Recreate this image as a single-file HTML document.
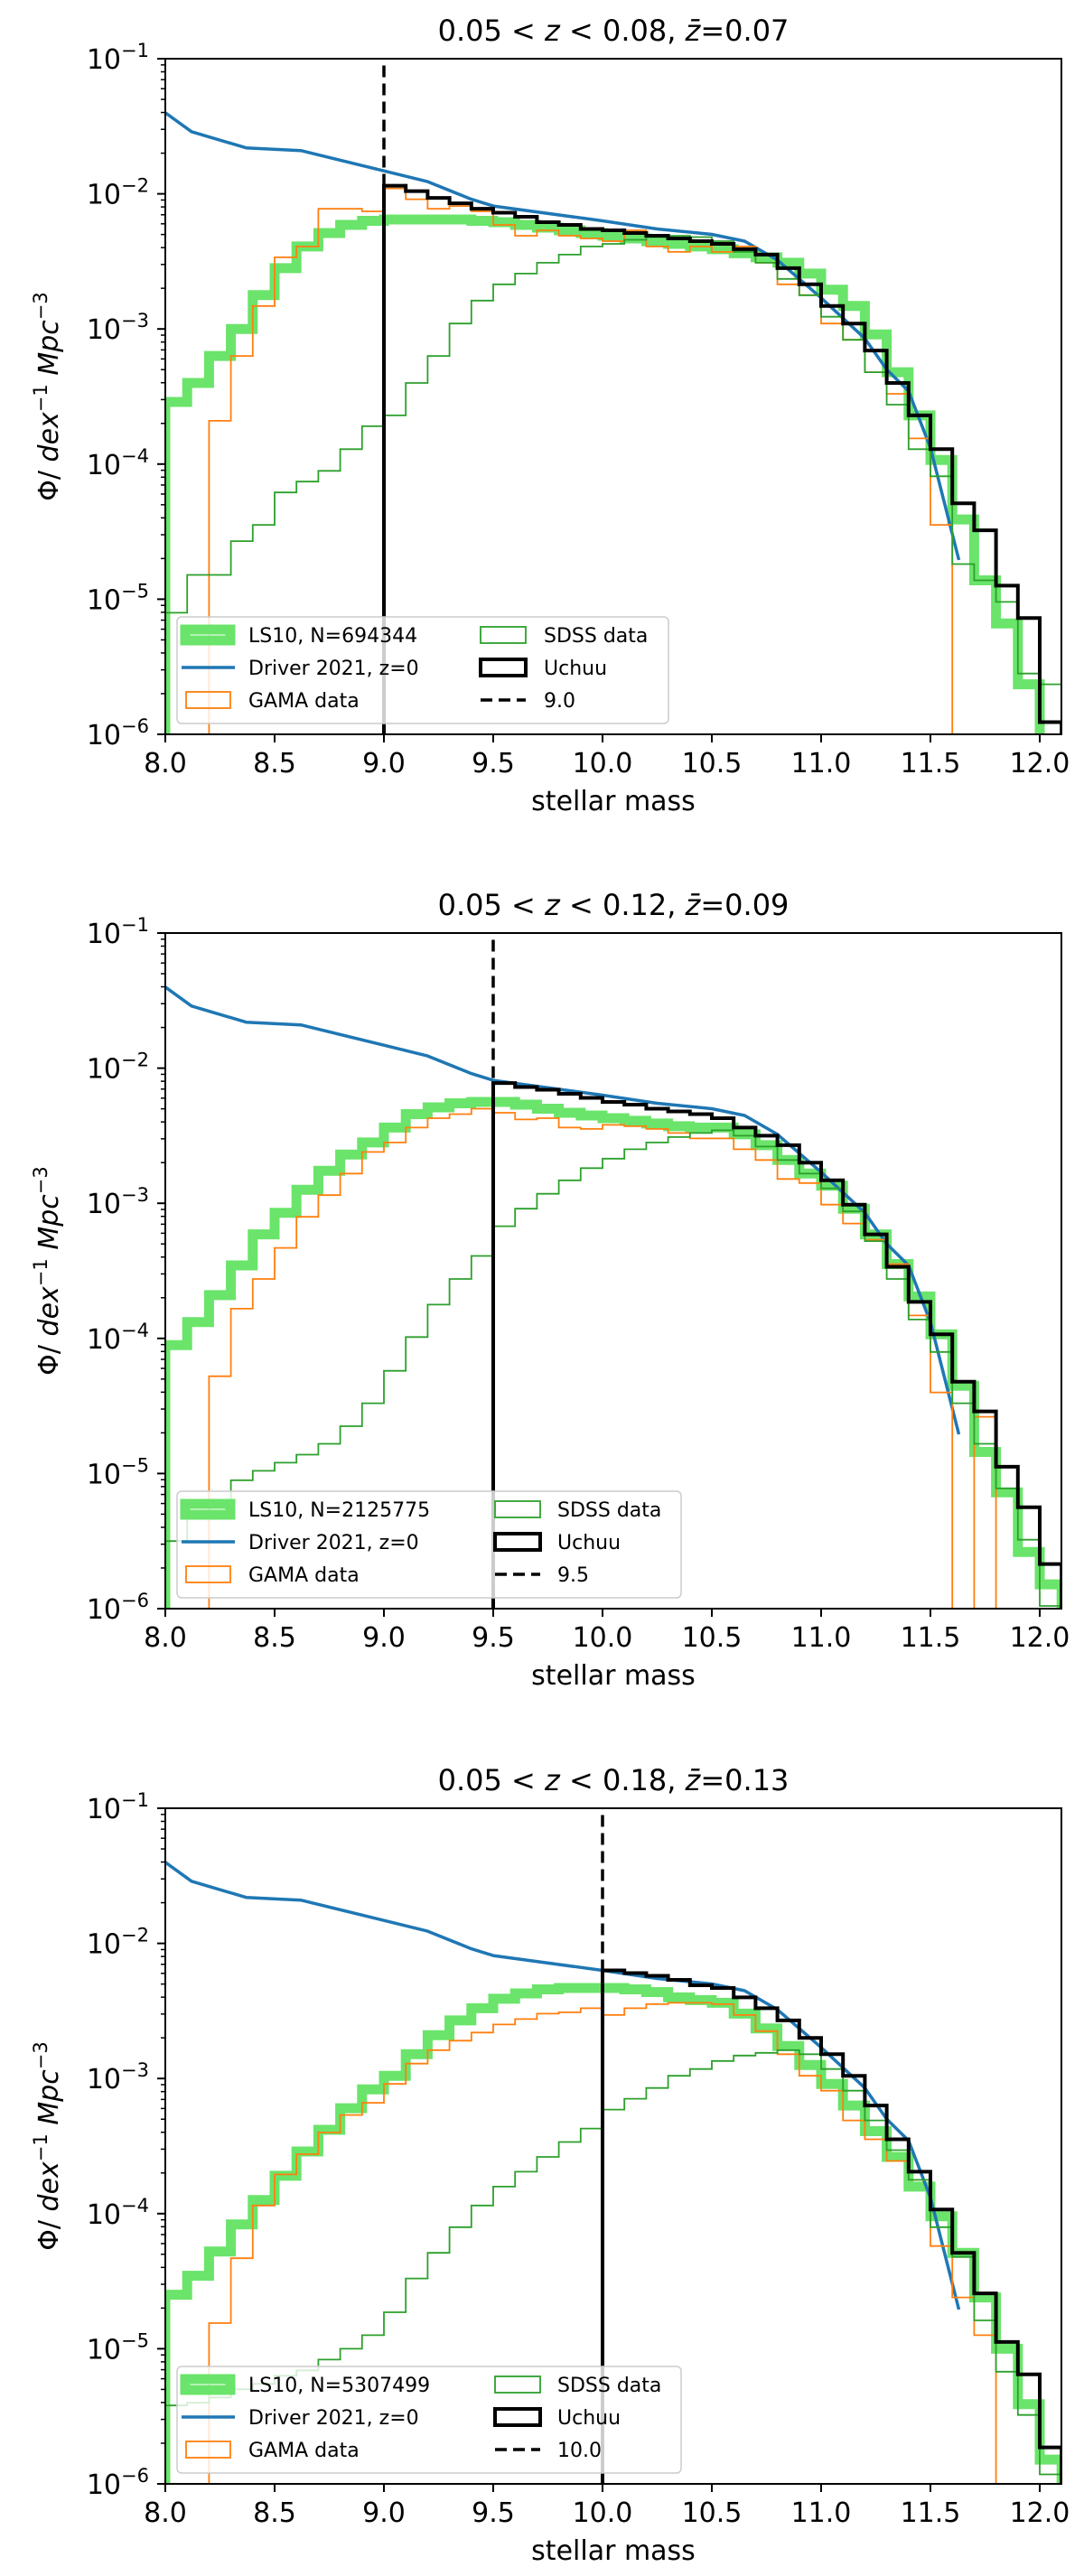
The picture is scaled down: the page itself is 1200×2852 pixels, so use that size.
<!DOCTYPE html>
<html><head><meta charset="utf-8"><style>
html,body{margin:0;padding:0;background:#fff;}
svg{display:block;font-family:"DejaVu Sans","Liberation Sans",sans-serif;}
</style></head>
<body>
<svg id="fig" width="1200" height="2852" viewBox="0 0 1200 2852" xmlns="http://www.w3.org/2000/svg"></svg>
<script>
// ---- data (log10 Phi), bins of 0.1 dex starting at 8.0 ----
const binStart = 8.0;
const binWidth = 0.1;
const xTicks = [8.0, 8.5, 9.0, 9.5, 10.0, 10.5, 11.0, 11.5, 12.0];
const xTickLabels = ["8.0","8.5","9.0","9.5","10.0","10.5","11.0","11.5","12.0"];
const yTickExp = [-1, -2, -3, -4, -5, -6];
const driverMass = [8.0,8.12,8.37,8.62,9.0,9.2,9.4,9.5,10.0,10.25,10.5,10.65,10.8,11.0,11.2,11.3,11.4,11.5,11.63];
const driverLogPhi = [-1.40,-1.54,-1.66,-1.68,-1.83,-1.91,-2.04,-2.09,-2.20,-2.26,-2.30,-2.35,-2.49,-2.77,-3.07,-3.30,-3.46,-3.88,-4.71];

const titlePre = ["0.05 < ", "0.05 < ", "0.05 < "];
const titlePost = [" < 0.08", " < 0.12", " < 0.18"];
const zMeans = ["0.07", "0.09", "0.13"];
const nCounts = ["694344", "2125775", "5307499"];
const massCuts = [9.0, 9.5, 10.0];
const cutLabels = ["9.0", "9.5", "10.0"];

const ls10P1 = [-3.54,-3.40,-3.20,-3.00,-2.75,-2.55,-2.39,-2.29,-2.23,-2.20,-2.19,-2.19,-2.19,-2.19,-2.20,-2.21,-2.23,-2.25,-2.27,-2.29,-2.31,-2.33,-2.35,-2.37,-2.39,-2.41,-2.44,-2.47,-2.51,-2.59,-2.71,-2.83,-3.04,-3.32,-3.64,-3.97,-4.41,-4.86,-5.18,-5.63,null];
const gamaP1 = [null,null,-3.68,-3.20,-2.83,-2.47,-2.39,-2.11,-2.11,-2.13,-1.96,-2.04,-2.11,-2.09,-2.13,-2.23,-2.31,-2.27,-2.31,-2.33,-2.35,-2.27,-2.39,-2.43,-2.39,-2.43,-2.39,-2.51,-2.67,-2.75,-2.96,-3.08,-3.32,-3.48,-3.81,-4.45,null,null,null,null,null];
const sdssP1 = [-5.10,-4.82,-4.82,-4.57,-4.45,-4.21,-4.13,-4.05,-3.89,-3.72,-3.64,-3.40,-3.20,-2.96,-2.79,-2.67,-2.59,-2.51,-2.45,-2.39,-2.37,-2.34,-2.32,-2.31,-2.32,-2.35,-2.43,-2.51,-2.63,-2.75,-2.91,-3.08,-3.32,-3.56,-3.89,-4.09,-4.74,-4.86,-5.02,-5.55,-5.63];
const uchuuP1 = [null,null,null,null,null,null,null,null,null,null,-1.94,-1.98,-2.03,-2.07,-2.11,-2.14,-2.17,-2.21,-2.23,-2.26,-2.27,-2.29,-2.31,-2.33,-2.35,-2.37,-2.41,-2.45,-2.55,-2.67,-2.83,-2.96,-3.16,-3.40,-3.64,-3.89,-4.29,-4.49,-4.90,-5.14,-5.91];

const ls10P2 = [-4.05,-3.88,-3.68,-3.46,-3.23,-3.07,-2.90,-2.76,-2.64,-2.55,-2.44,-2.34,-2.29,-2.26,-2.25,-2.25,-2.27,-2.30,-2.33,-2.35,-2.37,-2.39,-2.41,-2.43,-2.44,-2.44,-2.49,-2.57,-2.68,-2.78,-2.87,-3.04,-3.23,-3.45,-3.69,-3.97,-4.35,-4.84,-5.14,-5.58,-5.82];
const gamaP2 = [null,null,-4.28,-3.78,-3.56,-3.33,-3.10,-2.94,-2.78,-2.62,-2.55,-2.44,-2.37,-2.34,-2.30,-2.33,-2.38,-2.37,-2.44,-2.45,-2.42,-2.43,-2.45,-2.48,-2.52,-2.52,-2.60,-2.68,-2.82,-2.85,-3.01,-3.15,-3.27,-3.45,-3.83,-4.40,null,-4.58,null,null,null];
const sdssP2 = [-5.50,-5.30,-5.20,-5.05,-4.98,-4.92,-4.86,-4.78,-4.65,-4.48,-4.24,-3.99,-3.75,-3.56,-3.39,-3.17,-3.04,-2.93,-2.83,-2.74,-2.67,-2.60,-2.55,-2.51,-2.48,-2.46,-2.50,-2.58,-2.68,-2.78,-2.89,-3.06,-3.28,-3.56,-3.86,-4.10,-4.48,-4.78,-5.11,-5.49,-5.98];
const uchuuP2 = [null,null,null,null,null,null,null,null,null,null,null,null,null,null,null,-2.11,-2.14,-2.16,-2.19,-2.22,-2.25,-2.27,-2.30,-2.32,-2.34,-2.37,-2.44,-2.50,-2.57,-2.70,-2.83,-3.01,-3.23,-3.47,-3.73,-3.97,-4.32,-4.54,-4.95,-5.25,-5.67];

const ls10P3 = [-4.60,-4.46,-4.28,-4.08,-3.90,-3.72,-3.54,-3.38,-3.22,-3.08,-2.98,-2.82,-2.68,-2.57,-2.48,-2.41,-2.37,-2.34,-2.33,-2.33,-2.33,-2.34,-2.36,-2.40,-2.42,-2.44,-2.52,-2.63,-2.76,-2.90,-3.04,-3.20,-3.39,-3.58,-3.80,-4.02,-4.29,-4.62,-5.00,-5.41,-5.82];
const gamaP3 = [null,null,-4.81,-4.33,-3.94,-3.71,-3.56,-3.40,-3.27,-3.18,-3.04,-2.89,-2.79,-2.72,-2.66,-2.60,-2.56,-2.52,-2.51,-2.48,-2.53,-2.48,-2.45,-2.44,-2.44,-2.45,-2.53,-2.65,-2.82,-2.98,-3.09,-3.31,-3.45,-3.61,-3.75,-4.24,-4.62,-4.90,null,null,null];
const sdssP3 = [-5.42,-5.40,-5.36,-5.30,-5.26,-5.20,-5.16,-5.08,-5.00,-4.90,-4.73,-4.48,-4.29,-4.10,-3.94,-3.80,-3.69,-3.58,-3.47,-3.37,-3.23,-3.15,-3.07,-2.98,-2.93,-2.87,-2.83,-2.81,-2.79,-2.82,-2.93,-3.09,-3.31,-3.53,-3.75,-4.10,-4.32,-4.79,-5.17,-5.49,-5.93];
const uchuuP3 = [null,null,null,null,null,null,null,null,null,null,null,null,null,null,null,null,null,null,null,null,-2.20,-2.22,-2.24,-2.27,-2.31,-2.33,-2.40,-2.48,-2.57,-2.70,-2.82,-2.98,-3.20,-3.45,-3.69,-3.97,-4.29,-4.59,-4.95,-5.19,-5.73];

const ls10All = [ls10P1, ls10P2, ls10P3];
const gamaAll = [gamaP1, gamaP2, gamaP3];
const sdssAll = [sdssP1, sdssP2, sdssP3];
const uchuuAll = [uchuuP1, uchuuP2, uchuuP3];

// ---- layout ----
const NS = "http://www.w3.org/2000/svg";
const svg = document.getElementById("fig");
const L = 183, R = 1175, H = 748;
const panelTops = [65, 1033, 2002];
const xmin = 8.0, xmax = 8.0 + (R - L) / 242;
function xs(v) { return L + (v - xmin) / (xmax - xmin) * (R - L); }
function mk(tag, attrs, parent) {
  const e = document.createElementNS(NS, tag);
  for (const k in attrs) e.setAttribute(k, attrs[k]);
  (parent || svg).appendChild(e);
  return e;
}

function stepPath(vals, ys, bottom) {
  let d = "M" + xs(binStart).toFixed(1) + "," + bottom;
  for (let i = 0; i < vals.length; i++) {
    const x0 = xs(binStart + i * binWidth), x1 = xs(binStart + (i + 1) * binWidth);
    const y = vals[i] === null ? bottom + 20 : ys(vals[i]);
    d += " L" + x0.toFixed(1) + "," + y.toFixed(1) + " L" + x1.toFixed(1) + "," + y.toFixed(1);
  }
  d += " L" + xs(binStart + vals.length * binWidth).toFixed(1) + "," + bottom;
  return d;
}

for (let p = 0; p < 3; p++) {
  const T = panelTops[p], B = T + H;
  const ys = v => T + (-1 - v) / 5 * H;
  const g = mk("g", {});
  
  

  const cp = mk("clipPath", { id: "clip" + p }, g);
  mk("rect", { x: L, y: T, width: R - L, height: H }, cp);

  // title
  const t = mk("text", { x: (L + R) / 2, y: T - 20, "text-anchor": "middle", "font-size": 32, fill: "#000" }, g);
  
  
  t.innerHTML = titlePre[p] + '<tspan font-style="italic">z</tspan>' + titlePost[p] + ', <tspan font-style="italic">z̄</tspan>=' + zMeans[p];

  const plot = mk("g", { "clip-path": "url(#clip" + p + ")" }, g);
  
  

  const cut = mk("line", { x1: xs(massCuts[p]), x2: xs(massCuts[p]), y1: ys(-1.05), y2: B, stroke: "#000", "stroke-width": 3.5, "stroke-dasharray": "13,7" }, plot);
  
  

  const ls = mk("path", { d: stepPath(ls10All[p], ys, B), fill: "none", stroke: "#6ae46a", "stroke-width": 11, "stroke-linejoin": "miter" }, plot);
  
  

  let dd = "";
  for (let i = 0; i < driverMass.length; i++) dd += (i ? " L" : "M") + xs(driverMass[i]).toFixed(1) + "," + ys(driverLogPhi[i]).toFixed(1);
  const dr = mk("path", { d: dd, fill: "none", stroke: "#1f77b4", "stroke-width": 3.5, "stroke-linejoin": "round" }, plot);
  
  

  const ga = mk("path", { d: stepPath(gamaAll[p], ys, B), fill: "none", stroke: "#ff7f0e", "stroke-width": 1.8 }, plot);
  
  

  const sd = mk("path", { d: stepPath(sdssAll[p], ys, B), fill: "none", stroke: "#2ca02c", "stroke-width": 1.8 }, plot);
  
  

  const uc = mk("path", { d: stepPath(uchuuAll[p], ys, B), fill: "none", stroke: "#000", "stroke-width": 4 }, plot);
  
  

  const fr = mk("rect", { x: L, y: T, width: R - L, height: H, fill: "none", stroke: "#000", "stroke-width": 2 }, g);
  
  

  for (let i = 0; i < xTicks.length; i++) {
    const x = xs(xTicks[i]);
    mk("line", { x1: x, x2: x, y1: B, y2: B + 9, stroke: "#000", "stroke-width": 2 }, g);
    const tl = mk("text", { x: x, y: B + 42, "text-anchor": "middle", "font-size": 30 }, g);
    
    
    tl.textContent = xTickLabels[i];
  }
  const xl = mk("text", { x: (L + R) / 2, y: B + 84, "text-anchor": "middle", "font-size": 30 }, g);
  
  
  xl.textContent = "stellar mass";

  for (let i = 0; i < yTickExp.length; i++) {
    const e = yTickExp[i], y = ys(e);
    mk("line", { x1: L - 9, x2: L, y1: y, y2: y, stroke: "#000", "stroke-width": 2 }, g);
    const tl = mk("text", { x: 165, y: y + 11, "text-anchor": "end", "font-size": 30 }, g);
    
    
    tl.innerHTML = '10<tspan font-size="21" dy="-13">−' + (-e) + '</tspan>';
    if (e > -6) {
      for (let m = 2; m <= 9; m++) {
        const ym = ys(e - 1 + Math.log10(m));
        mk("line", { x1: L - 5, x2: L, y1: ym, y2: ym, stroke: "#000", "stroke-width": 1.5 }, g);
      }
    }
  }
  const yl = mk("text", { x: 0, y: 0, "text-anchor": "middle", "font-size": 30, transform: "translate(64," + (T + H / 2) + ") rotate(-90)" }, g);
  
  
  yl.innerHTML = 'Φ/ <tspan font-style="italic">dex</tspan><tspan font-size="21" dy="-12">−1</tspan><tspan dy="12"> </tspan><tspan font-style="italic">Mpc</tspan><tspan font-size="21" dy="-12">−3</tspan>';

  const wide = p > 0;
  const lg = mk("g", {}, g);
  
  
  mk("rect", { x: 196, y: T + 618, width: wide ? 558 : 544, height: 118, rx: 5, fill: "#fff", "fill-opacity": 0.8, stroke: "#cccccc", "stroke-width": 1.5 }, lg);
  const rows = [T + 638, T + 674, T + 710];
  const c2h = wide ? 548 : 532, c2t = wide ? 617 : 602;
  function entry(name, text, x, y) {
    const tx = mk("text", { x: x, y: y + 8, "font-size": 22 }, lg);
    
    
    tx.textContent = text;
  }
  mk("rect", { x: 205, y: rows[0] - 6, width: 50, height: 12, fill: "none", stroke: "#6ae46a", "stroke-width": 11 }, lg);
  entry("legend-ls10", "LS10, N=" + nCounts[p], 275, rows[0]);
  mk("line", { x1: 201, x2: 260, y1: rows[1], y2: rows[1], stroke: "#1f77b4", "stroke-width": 3.5 }, lg);
  entry("legend-driver", "Driver 2021, z=0", 275, rows[1]);
  mk("rect", { x: 206, y: rows[2] - 9, width: 49, height: 18, fill: "none", stroke: "#ff7f0e", "stroke-width": 1.8 }, lg);
  entry("legend-gama", "GAMA data", 275, rows[2]);
  mk("rect", { x: c2h, y: rows[0] - 9, width: 50, height: 18, fill: "none", stroke: "#2ca02c", "stroke-width": 1.8 }, lg);
  entry("legend-sdss", "SDSS data", c2t, rows[0]);
  mk("rect", { x: c2h, y: rows[1] - 9, width: 50, height: 18, fill: "none", stroke: "#000", "stroke-width": 4 }, lg);
  entry("legend-uchuu", "Uchuu", c2t, rows[1]);
  mk("line", { x1: c2h, x2: c2h + 50, y1: rows[2], y2: rows[2], stroke: "#000", "stroke-width": 3.5, "stroke-dasharray": "13,7" }, lg);
  entry("legend-mass-cut", cutLabels[p], c2t, rows[2]);
}
</script>
</body></html>
